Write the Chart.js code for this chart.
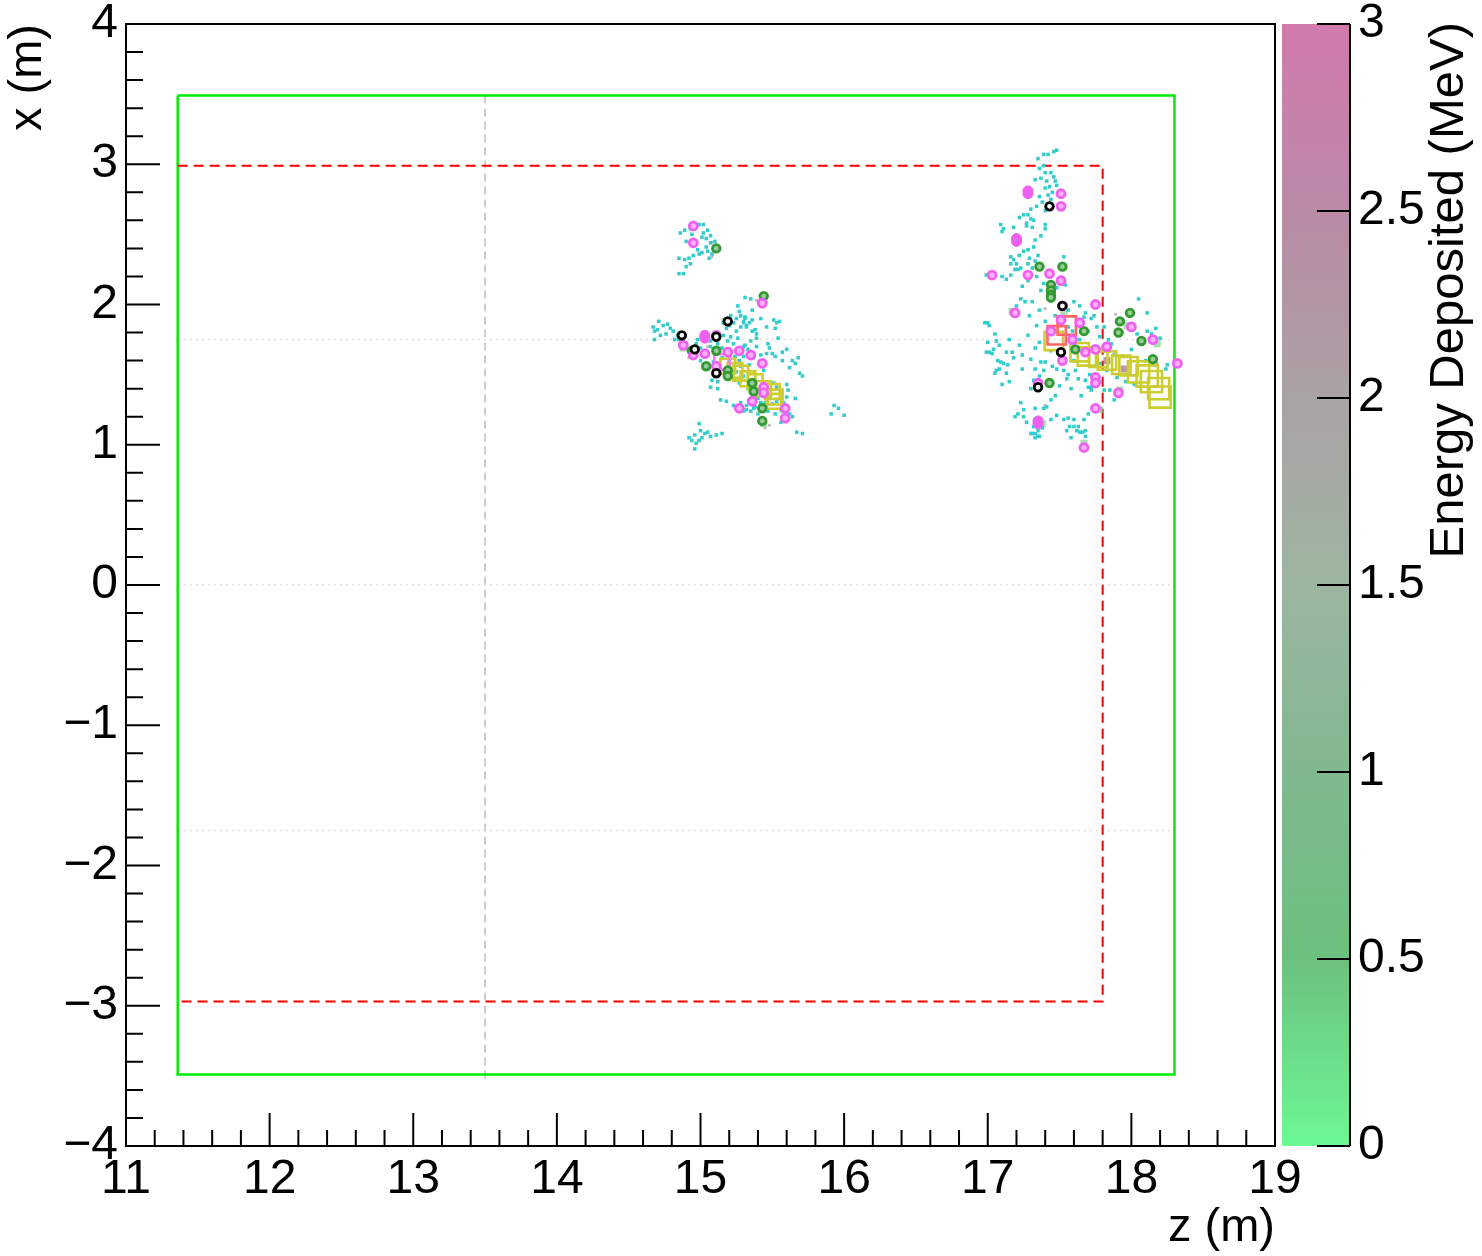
<!DOCTYPE html>
<html>
<head>
<meta charset="utf-8">
<script src="https://cdn.jsdelivr.net/npm/chart.js@4.4.1/dist/chart.umd.min.js"></script>
<style>
  html, body { margin: 0; padding: 0; background: #fff; }
  canvas { display: block; }
</style>
</head>
<body>
<canvas id="chart" width="1482" height="1256"></canvas>
<script>
// detector outlines (z, x in metres)
const outerBoxZ = [11.36, 18.30, 18.30, 11.36, 11.36];
const outerBoxX = [3.49, 3.49, -3.49, -3.49, 3.49];
const innerBoxZ = [11.36, 17.80, 17.80, 11.36];
const innerBoxX = [2.99, 2.99, -2.97, -2.97];
const cathodeZ = [13.5, 13.5];
const cathodeX = [3.49, -3.53];
const dottedZ = [11.36, 18.30];
const dottedX = [1.75, 0, -1.75];

// hits [z, x]
const cyanHits = [
  [14.86,2.51],[14.89,2.53],[14.93,2.54],[14.99,2.57],[15.02,2.57],[15.05,2.53],[15.07,2.49],[15.04,2.47],
  [15.01,2.48],[14.90,2.45],[14.98,2.39],[15.01,2.37],[15.05,2.38],[15.08,2.36],[14.85,2.33],[14.89,2.32],
  [14.92,2.33],[14.93,2.29],[14.90,2.27],[14.85,2.22],[14.88,2.22],[15.07,2.44],[15.04,2.41],[15.02,2.51],
  [14.99,2.36],[15.31,2.05],[15.35,2.04],
  [14.67,1.84],[14.68,1.81],[14.71,1.88],[14.74,1.85],[14.76,1.79],[14.72,1.78],[14.68,1.75],[14.79,1.83],
  [14.81,1.81],[14.82,1.75],[14.85,1.75],
  [15.16,1.87],[15.21,1.92],[15.23,1.87],[15.28,1.92],[15.31,1.91],[15.30,1.88],[15.28,1.84],[15.32,1.85],
  [15.25,1.81],[15.18,1.83],[15.16,1.78],[15.21,1.77],[15.36,1.81],[15.39,1.76],
  [14.97,1.72],[15.00,1.69],[15.07,1.70],[15.15,1.69],[15.23,1.72],[15.30,1.70],[15.35,1.74],[15.39,1.70],
  [15.04,1.63],[15.09,1.59],[15.15,1.62],[15.24,1.63],[15.30,1.63],[15.37,1.62],[15.28,1.56],[15.25,1.52],
  [15.30,1.49],[15.24,1.46],[15.08,1.46],[15.07,1.41],
  [15.14,1.32],[15.18,1.31],[15.23,1.28],[15.28,1.30],[15.32,1.28],[15.38,1.27],[15.35,1.24],[15.30,1.24],
  [14.99,1.15],[15.00,1.10],[14.96,1.07],[14.94,1.03],[14.97,1.01],[15.01,1.05],[15.03,1.08],[15.07,1.06],
  [15.11,1.07],[15.15,1.08],[14.96,0.97],
  [15.31,1.90],[15.30,1.87],[15.32,1.84],[15.36,1.89],[15.38,1.82],[15.39,1.79],[15.51,1.89],[15.53,1.87],
  [15.55,1.88],[15.52,1.83],[15.47,1.72],[15.48,1.69],[15.46,1.65],[15.50,1.65],[15.52,1.63],[15.57,1.66],
  [15.57,1.60],[15.64,1.60],[15.66,1.58],[15.68,1.62],[15.69,1.51],[15.71,1.49],[15.42,1.64],[15.31,1.71],
  [15.51,1.44],[15.53,1.41],[15.61,1.39],[15.60,1.34],[15.48,1.34],[15.42,1.30],[15.37,1.26],[15.32,1.25],
  [15.46,1.28],[15.53,1.31],[15.56,1.25],[15.62,1.22],[15.64,1.20],[15.56,1.16],[15.58,1.18],[15.67,1.09],
  [15.71,1.08],[15.93,1.28],[15.96,1.26],[15.91,1.22],[16.00,1.21],
  [15.25,1.90],[15.27,1.95],[15.20,1.85],[15.34,1.87],[15.26,1.76],[15.12,1.72],[15.19,1.74],[15.33,1.68],
  [15.20,1.60],[15.27,1.60],[15.34,1.57],[15.22,1.50],[15.27,1.44],[15.33,1.40],[15.40,1.33],[15.45,1.30],
  [15.50,1.29],[15.47,1.24],[15.52,1.22],[15.40,1.22],[15.58,1.30],[15.60,1.43],[15.66,1.33],[14.70,1.82],
  [14.77,1.86],[14.84,1.78],[14.98,1.75],[15.07,1.74],[15.00,1.60],[15.12,1.45],[15.12,1.40],[14.92,1.05],
  [14.99,1.03],[15.05,1.09],[15.46,1.84],[15.54,1.76],[15.60,1.68],[15.62,1.55],[15.44,1.53],[15.42,1.90],
  [15.36,1.96],[15.26,1.99],[14.94,2.50],[14.95,2.35],[15.06,2.33],[15.10,2.45],
  [17.35,3.04],[17.39,3.07],[17.42,3.07],[17.46,3.09],[17.48,3.10],[17.39,2.99],[17.40,2.94],[17.44,2.94],
  [17.46,2.91],[17.47,2.88],[17.41,2.88],[17.40,2.83],[17.42,2.78],[17.33,2.89],[17.44,2.75],[17.48,2.85],
  [17.38,2.73],[17.40,2.67],[17.25,2.64],[17.28,2.64],[17.30,2.61],[17.32,2.60],[17.27,2.58],[17.09,2.57],
  [17.11,2.54],[17.10,2.52],[17.27,2.56],[17.40,2.57],[17.40,2.54],[17.31,2.55],[17.33,2.46],[17.32,2.41],
  [17.28,2.39],[17.25,2.38],[17.16,2.34],[17.16,2.29],[17.18,2.32],[17.20,2.29],[17.23,2.26],[17.28,2.29],
  [17.31,2.26],[17.33,2.31],[17.35,2.35],[17.53,2.34],[17.10,2.20],[17.16,2.21],[17.21,2.25],[17.34,2.20],
  [17.39,2.15],[17.48,2.12],[17.54,2.14],[17.24,2.13],[16.99,2.21],
  [17.23,2.04],[17.26,2.02],[17.20,1.99],[17.00,1.87],[17.06,1.74],[17.08,1.71],[17.04,1.68],[17.01,1.66],
  [17.13,1.66],[17.24,1.64],[17.09,1.59],[17.14,1.57],[17.08,1.54],[17.05,1.51],[17.24,1.54],[17.33,1.54],
  [17.40,1.59],[17.45,1.56],[17.48,1.54],[17.53,1.53],[17.56,1.50],[17.55,1.47],[17.61,1.53],[17.63,1.47],
  [17.71,1.50],[17.72,1.41],[17.47,1.35],[17.44,1.32],[17.56,1.84],[17.59,1.81],[17.56,1.96],[17.60,2.02],
  [17.64,1.99],[17.68,1.94],[17.72,1.90],[17.70,1.81],[17.40,1.88],[17.47,1.92],
  [17.19,1.20],[17.21,1.22],[17.25,1.25],[17.33,1.26],[17.31,1.08],[17.33,1.05],[17.36,1.06],[17.35,1.10],
  [17.48,1.21],[17.56,1.19],[17.60,1.18],[17.60,1.13],[17.63,1.13],[17.64,1.09],[17.68,1.10],[17.55,1.10],
  [17.67,1.91],[17.74,1.92],[17.76,1.84],[17.81,1.84],[17.84,1.75],[17.86,1.72],[17.78,1.77],[18.04,1.79],
  [18.11,1.81],[18.17,1.83],[18.14,1.79],[18.11,1.94],[18.05,2.04],[18.10,1.60],[18.13,1.59],[18.25,1.57],
  [18.24,1.54],[17.68,1.46],[17.70,1.41],[17.72,1.39],[17.78,1.45],[17.81,1.39],[17.88,1.32],[17.85,1.39],
  [17.67,1.18],
  [16.98,1.87],[17.01,1.85],[17.05,1.79],[16.99,1.66],[17.03,1.65],[17.07,1.60],[17.06,1.53],[17.13,1.51],
  [17.11,1.58],[17.17,1.66],[17.18,1.62],[17.33,1.69],[17.37,1.59],[17.39,1.53],[17.32,1.46],[17.30,1.40],
  [17.25,1.20],[17.39,1.26],[17.32,1.13],[17.33,1.08],[17.35,1.06],[17.30,1.08],[17.53,1.18],[17.57,1.13],
  [17.62,1.10],[17.66,1.09],[17.68,1.06],[17.41,1.27],
  [17.36,2.97],[17.37,2.90],[17.43,2.84],[17.45,2.80],[17.36,2.77],[17.34,2.70],[17.30,2.68],[17.22,2.62],
  [17.18,2.55],[17.37,2.49],[17.29,2.33],[17.22,2.35],[17.19,2.25],[17.13,2.18],[17.28,2.17],[17.37,2.10],
  [17.31,2.02],[17.36,1.96],[17.29,1.92],[17.34,1.85],[17.28,1.78],[17.22,1.71],[17.36,1.73],[17.44,1.67],
  [17.30,1.61],[17.36,1.49],[17.42,1.46],[17.50,1.42],[17.58,1.40],[17.65,1.35],[17.60,1.60],[17.64,1.75],
  [17.78,1.58],[17.83,1.53],[17.90,1.48],[17.96,1.45],[18.02,1.43],[17.15,1.45],[17.10,1.43],[17.23,1.30],
  [17.27,1.16],[17.38,1.12],[17.44,1.18],[17.70,1.22],[17.58,1.05],[17.00,1.73],[17.15,1.75],[18.20,1.76],
  [18.00,1.68],[17.88,1.64]
];
const magentaHits = [
  [14.95,2.56],[14.95,2.44],[15.43,2.01],[15.11,1.78],[14.88,1.71],[14.95,1.64],[15.03,1.65],[15.19,1.66],
  [15.27,1.67],[15.35,1.64],[15.43,1.58],[15.11,1.56],[15.44,1.41],[15.44,1.37],[15.36,1.31],[15.27,1.26],
  [15.59,1.26],[15.59,1.19],
  [17.51,2.79],[17.51,2.70],[17.03,2.21],[17.28,2.21],[17.43,2.22],[17.51,2.17],[17.19,1.94],[17.52,1.99],
  [17.51,1.89],[17.64,1.87],[17.44,1.81],[17.59,1.75],[17.52,1.60],[17.68,1.66],[17.35,1.44],[17.67,0.98],
  [17.75,1.26],[17.75,2.00],[18.00,1.84],[18.15,1.75],[17.83,1.70],[17.75,1.68],[18.32,1.58],[17.75,1.48],
  [17.75,1.44],[17.91,1.37]
];
const magentaBlobs = [[15.03,1.78],[15.03,1.76],[17.28,2.81],[17.28,2.79],[17.20,2.47],[17.20,2.45],[17.35,1.17],[17.35,1.15]];
const greenHits = [
  [15.11,2.40],[15.44,2.06],[14.94,1.67],[15.11,1.67],[15.04,1.56],[15.19,1.53],[15.19,1.49],[15.36,1.44],
  [15.37,1.38],[15.43,1.26],[15.43,1.17],
  [17.36,2.27],[17.52,2.27],[17.44,2.14],[17.44,2.10],[17.44,2.07],[17.44,2.05],[17.67,1.81],[17.61,1.68],
  [17.43,1.44],[17.99,1.94],[17.92,1.88],[17.91,1.80],[18.07,1.74],[18.15,1.61]
];
const blackHits = [
  [15.19,1.88],[14.87,1.78],[15.11,1.77],[14.96,1.68],[15.11,1.51],[17.43,2.70],[17.52,1.99],[17.51,1.66],[17.35,1.41]
];
const yellowSquares = [
  [15.19,1.56],[15.24,1.53],[15.28,1.51],[15.33,1.47],[15.38,1.45],[15.44,1.40],[15.50,1.38],[15.52,1.34],[15.51,1.31],
  [17.46,1.74],[17.64,1.66],[17.69,1.63],[17.77,1.62],[17.83,1.60],[17.93,1.57],[17.98,1.56],[18.05,1.52],
  [18.11,1.49],[18.14,1.45],[18.19,1.40],[18.20,1.34]
];
const redSquares = [[17.55,1.85],[17.48,1.78]];
const pinkSquares = [[15.15,1.59]];
const shadedHits = [
  [17.17,1.95],[17.53,1.93],[17.97,1.85],[18.18,1.72],[18.33,1.58],[17.92,1.39],[17.78,1.25],[17.38,1.15],
  [17.67,1.01],[14.88,1.69],[15.03,1.56],[15.17,1.88],[15.44,1.15],[15.58,1.25]
];
const mauveHits = [[17.83,1.60],[17.95,1.54]];
const grayHits = [
  [15.08,2.44],[15.08,2.34],[15.39,2.03],[14.92,1.62],[15.05,1.70],[15.45,1.12],[15.48,1.14],[17.89,1.93],
  [17.94,1.80],[18.18,1.58],[17.40,1.28],[17.42,2.14],[17.40,1.97]
];

// colour scale
const energyMin = 0;
const energyMax = 3;
const energyStep = 0.5;
const paletteStops = [
  [0.0, '#6cf894'], [0.17, '#6cc07e'], [0.33, '#80b890'], [0.5, '#9db5a0'],
  [0.67, '#aaa2a4'], [0.83, '#b98aa6'], [1.0, '#d27aae']
];

const FONT = '"Liberation Sans", Arial, Helvetica, sans-serif';
Chart.defaults.font.family = FONT;
Chart.defaults.color = '#000';

const toPts = arr => arr.map(([z, x]) => ({ x: z, y: x }));
const zip = (zs, xs) => zs.map((z, i) => ({ x: z, y: xs[i] }));

const lineSet = (data, color, width, dash, order) => ({
  data, showLine: true, borderColor: color, borderWidth: width, borderDash: dash,
  pointRadius: 0, fill: false, tension: 0, order
});
const markerSet = (data, style, radius, fillColor, strokeColor, strokeWidth, order) => ({
  data: toPts(data), showLine: false, pointStyle: style, pointRadius: radius,
  pointBackgroundColor: fillColor, pointBorderColor: strokeColor, pointBorderWidth: strokeWidth, order
});

const datasets = [
  lineSet(zip(outerBoxZ, outerBoxX), '#00ee00', 2.5, [], 20),
  lineSet(zip(innerBoxZ, innerBoxX), '#ff0000', 2, [10, 6], 19),
  lineSet(zip(cathodeZ, cathodeX), '#cccccc', 2, [8, 5], 21),
  ...dottedX.map(v => lineSet(zip(dottedZ, [v, v]), '#dddddd', 1.5, [2, 4], 22)),
  markerSet(shadedHits, 'rect', 5, 'rgba(110,200,120,0.6)', 'rgba(0,0,0,0)', 0, 9),
  markerSet(grayHits, 'rect', 2, '#bbbbbb', 'rgba(0,0,0,0)', 0, 8),
  markerSet(cyanHits, 'rect', 2.5, '#33cccc', 'rgba(0,0,0,0)', 0, 7),
  markerSet(mauveHits, 'rect', 5, 'rgba(180,130,160,0.85)', 'rgba(0,0,0,0)', 0, 6),
  {
    ...markerSet(yellowSquares, 'rect', 10, 'rgba(0,0,0,0)', '#cccc33', 2.6, 5),
    pointRadius: c => { const z = c.raw ? c.raw.x : 0; return z < 16 ? 10.5 : (z < 18 ? 13 : 15); }
  },
  markerSet(redSquares, 'rect', 13, 'rgba(0,0,0,0)', '#ff6666', 2.6, 4),
  markerSet(pinkSquares, 'rect', 11, 'rgba(0,0,0,0)', '#ff77ff', 2.6, 4),
  markerSet(greenHits, 'circle', 3.8, '#99cc99', '#339933', 2.8, 3),
  markerSet(magentaBlobs, 'circle', 5, '#f060f0', '#f060f0', 1, 2),
  markerSet(magentaHits, 'circle', 4, '#ffb0ff', '#f060f0', 2.8, 2),
  markerSet(blackHits, 'circle', 3.8, '#ffffff', '#000000', 2.8, 1)
];

const noPad = s => { s.paddingTop = 0; s.paddingBottom = 0; s.paddingLeft = 0; s.paddingRight = 0; };

const framePlugin = {
  id: 'frame',
  afterDraw(chart) {
    const { ctx, chartArea: a, scales: { x, y, energy } } = chart;
    ctx.save();
    ctx.strokeStyle = '#000';
    ctx.lineWidth = 2;
    ctx.strokeRect(a.left, a.top, a.right - a.left, a.bottom - a.top);

    // inward ticks, ROOT style
    ctx.beginPath();
    for (let i = 0; i <= 40; i++) {
      const major = i % 5 === 0;
      const px = x.getPixelForValue(x.min + i * 0.2);
      ctx.moveTo(px, a.bottom);
      ctx.lineTo(px, a.bottom - (major ? 33 : 16));
      const py = y.getPixelForValue(y.min + i * 0.2);
      ctx.moveTo(a.left, py);
      ctx.lineTo(a.left + (major ? 34 : 17), py);
    }
    ctx.stroke();

    // palette bar
    const bx0 = a.right + 7, bx1 = a.right + 75;
    const g = ctx.createLinearGradient(0, energy.bottom, 0, energy.top);
    paletteStops.forEach(([t, col]) => g.addColorStop(t, col));
    ctx.fillStyle = g;
    ctx.fillRect(bx0, energy.top, bx1 - bx0, energy.bottom - energy.top);
    ctx.beginPath();
    ctx.moveTo(bx1, energy.top);
    ctx.lineTo(bx1, energy.bottom);
    for (let v = energyMin; v <= energyMax + 1e-9; v += energyStep) {
      const py = energy.getPixelForValue(v);
      ctx.moveTo(bx1, py);
      ctx.lineTo(bx1 - 33, py);
    }
    ctx.stroke();

    ctx.translate(1463, a.top - 2);
    ctx.rotate(-Math.PI / 2);
    ctx.font = '49px ' + FONT;
    ctx.fillStyle = '#000';
    ctx.textAlign = 'right';
    ctx.textBaseline = 'alphabetic';
    ctx.fillText('Energy Deposited (MeV)', 0, 0);
    ctx.restore();
  }
};

new Chart(document.getElementById('chart'), {
  type: 'scatter',
  data: { datasets },
  options: {
    responsive: false,
    devicePixelRatio: 1,
    animation: false,
    events: [],
    layout: { padding: { top: 24, left: 0, right: 0, bottom: 0 } },
    plugins: { legend: { display: false }, tooltip: { enabled: false } },
    scales: {
      x: {
        type: 'linear', position: 'bottom', min: 11, max: 19,
        grid: { display: false, drawTicks: false },
        border: { display: false },
        ticks: { stepSize: 1, autoSkip: false, maxRotation: 0, padding: 5, font: { size: 48 },
                 callback: v => String(v) },
        title: { display: true, text: 'z (m)', align: 'end', font: { size: 47 }, padding: 0 },
        afterFit: s => { s.height = 110; noPad(s); }
      },
      y: {
        type: 'linear', position: 'left', min: -4, max: 4,
        grid: { display: false, drawTicks: false },
        border: { display: false },
        ticks: { stepSize: 1, autoSkip: false, padding: 8, font: { size: 48 },
                 callback: v => (v < 0 ? '\u2212' + (-v) : String(v)) },
        title: { display: true, text: 'x (m)', align: 'end', font: { size: 47 }, padding: 0 },
        afterFit: s => { s.width = 126; noPad(s); }
      },
      energy: {
        type: 'linear', position: 'right', min: energyMin, max: energyMax,
        grid: { display: false, drawTicks: false },
        border: { display: false },
        ticks: { stepSize: energyStep, autoSkip: false, padding: 83, font: { size: 48 },
                 callback: v => String(v) },
        afterFit: s => { s.width = 207; noPad(s); }
      }
    }
  },
  plugins: [framePlugin]
});
</script>
</body>
</html>
